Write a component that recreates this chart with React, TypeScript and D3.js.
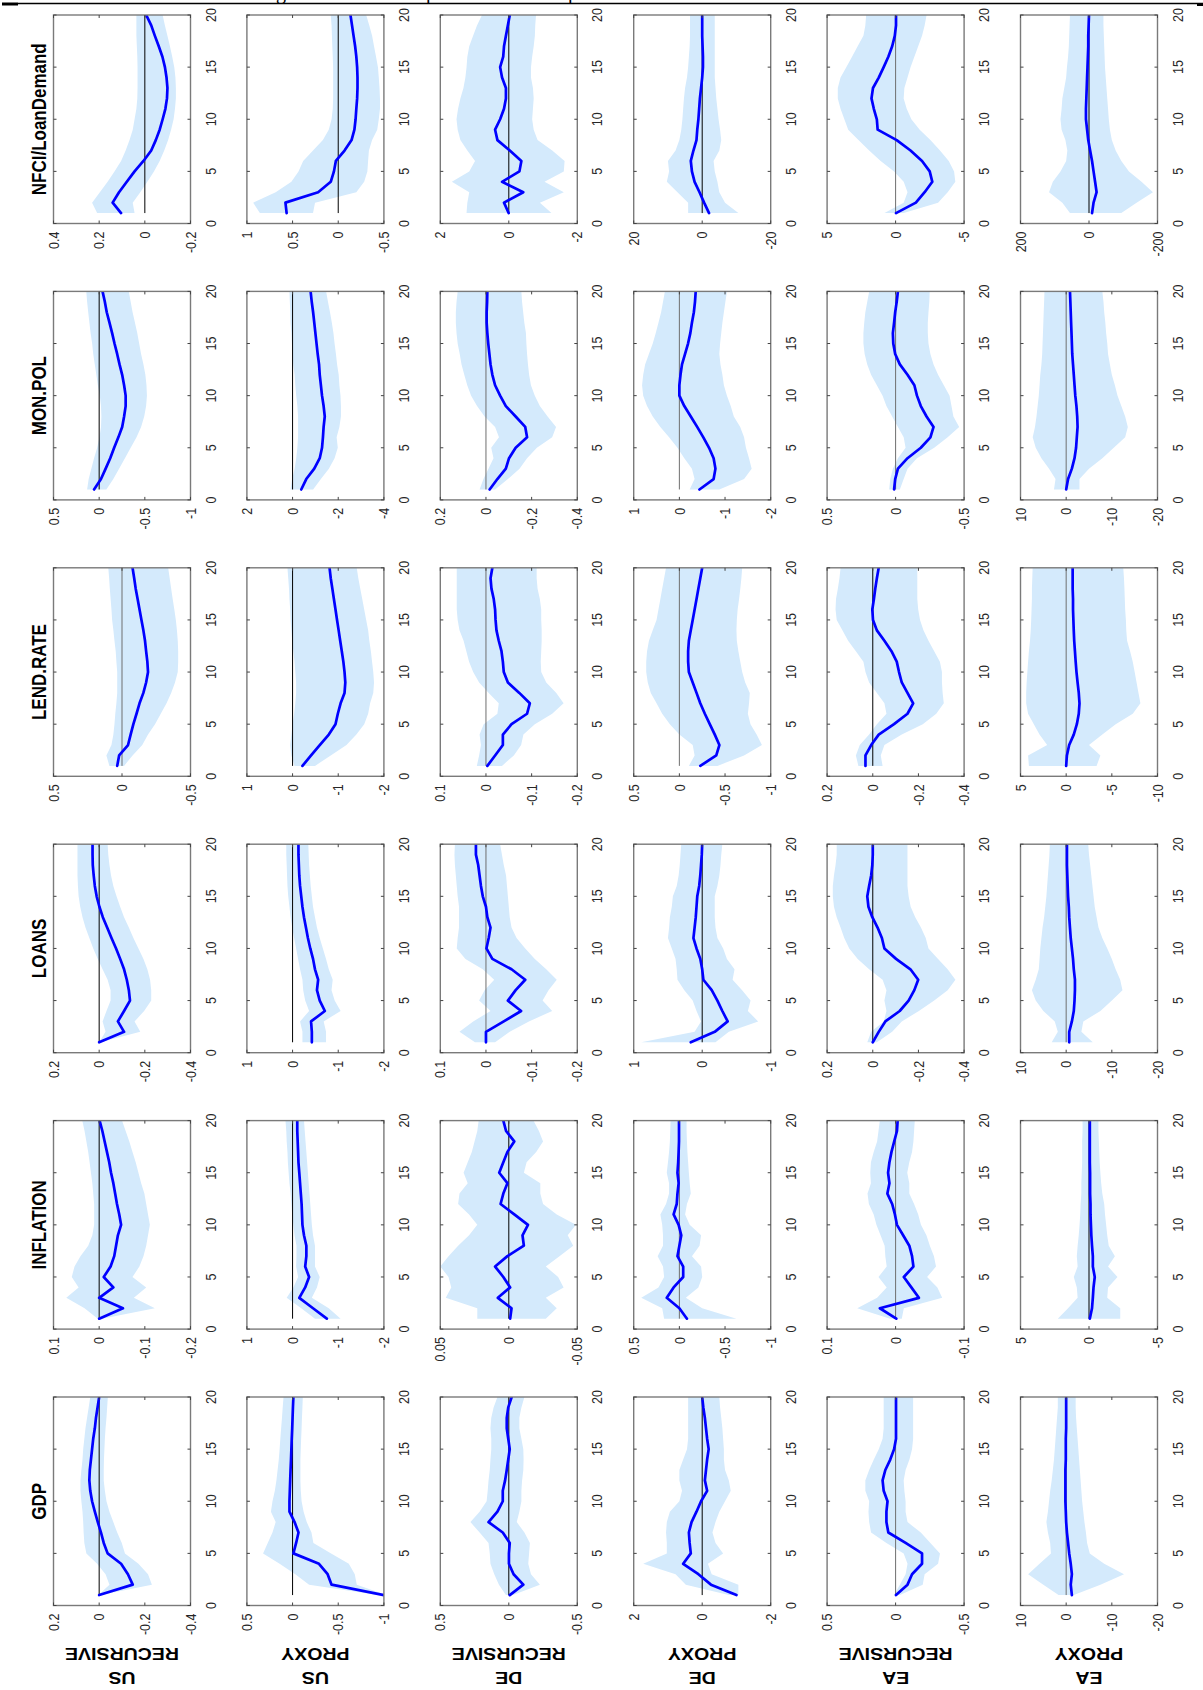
import React from 'react';
import * as d3 from 'd3';

// ---------- categories ----------
const variables = ['GDP', 'INFLATION', 'LOANS', 'LEND.RATE', 'MON.POL', 'NFCI/LoanDemand'];
const rowNames = [['US', 'RECURSIVE'], ['US', 'PROXY'], ['DE', 'RECURSIVE'], ['DE', 'PROXY'], ['EA', 'RECURSIVE'], ['EA', 'PROXY']];
const horizons = [1, 2, 3, 4, 5, 6, 7, 8, 9, 10, 11, 12, 13, 14, 15, 16, 17, 18, 19, 20];
const timeTicks = [0, 5, 10, 15, 20];

// ---------- tick labels (value axis) per row ----------
const gdpTicks = [[0.2, 0, -0.2, -0.4], [0.5, 0, -0.5, -1], [0.5, 0, -0.5], [2, 0, -2], [0.5, 0, -0.5], [10, 0, -10, -20]];
const infTicks = [[0.1, 0, -0.1, -0.2], [1, 0, -1, -2], [0.05, 0, -0.05], [0.5, 0, -0.5, -1], [0.1, 0, -0.1], [5, 0, -5]];
const loanTicks = [[0.2, 0, -0.2, -0.4], [1, 0, -1, -2], [0.1, 0, -0.1, -0.2], [1, 0, -1], [0.2, 0, -0.2, -0.4], [10, 0, -10, -20]];
const lendTicks = [[0.5, 0, -0.5], [1, 0, -1, -2], [0.1, 0, -0.1, -0.2], [0.5, 0, -0.5, -1], [0.2, 0, -0.2, -0.4], [5, 0, -5, -10]];
const monTicks = [[0.5, 0, -0.5, -1], [2, 0, -2, -4], [0.2, 0, -0.2, -0.4], [1, 0, -1, -2], [0.5, 0, -0.5], [10, 0, -10, -20]];
const nfciTicks = [[0.4, 0.2, 0, -0.2], [1, 0.5, 0, -0.5], [2, 0, -2], [20, 0, -20], [5, 0, -5], [200, 0, -200]];

// zero line drawn gray (1) or black (0)
const gdpZeroGray = [0, 0, 0, 0, 1, 1];
const infZeroGray = [0, 0, 0, 1, 1, 0];
const loanZeroGray = [0, 0, 1, 0, 0, 1];
const lendZeroGray = [1, 0, 1, 1, 0, 1];
const monZeroGray = [0, 0, 1, 1, 1, 1];
const nfciZeroGray = [0, 0, 0, 0, 1, 0];

// ---------- GDP ----------
const gdpMean = [
  [0, -0.147, -0.126, -0.096, -0.037, -0.02, -0.008, 0.006, 0.019, 0.031, 0.039, 0.043, 0.041, 0.036, 0.031, 0.026, 0.019, 0.014, 0.007, 0],
  [-1.0, -0.427, -0.384, -0.289, -0.009, -0.039, -0.065, -0.022, 0.034, 0.034, 0.03, 0.026, 0.022, 0.017, 0.013, 0.009, 0.004, 0, -0.004, -0.009],
  [-0.007, -0.106, -0.035, -0.001, -0.001, -0.007, 0.044, 0.148, 0.083, 0.044, 0.044, 0.027, 0.015, 0.004, -0.007, 0.004, 0.015, 0.015, 0.004, -0.021],
  [-1.0, -0.256, 0.111, 0.556, 0.333, 0.367, 0.389, 0.311, 0.167, 0.033, -0.144, -0.078, -0.111, -0.144, -0.189, -0.144, -0.111, -0.078, -0.033, 0],
  [-0.003, -0.087, -0.12, -0.193, -0.193, -0.073, 0.053, 0.067, 0.067, 0.059, 0.087, 0.095, 0.075, 0.039, 0.011, -0.003, -0.003, -0.003, -0.003, -0.003],
  [-1.25, -1.0, -1.25, -1.0, -0.67, -0.42, -0.17, 0, 0.08, 0.17, 0.17, 0.17, 0.17, 0.08, 0.08, 0.08, 0, 0, 0, 0],
];
const gdpHi = [
  [0.003, -0.045, -0.028, 0.009, 0.056, 0.065, 0.068, 0.07, 0.073, 0.078, 0.082, 0.082, 0.078, 0.073, 0.07, 0.065, 0.06, 0.053, 0.046, 0.039],
  [-0.935, -0.181, -0.03, 0.142, 0.323, 0.272, 0.22, 0.185, 0.237, 0.22, 0.194, 0.177, 0.164, 0.151, 0.142, 0.134, 0.125, 0.116, 0.108, 0.099],
  [0.021, 0.072, 0.106, 0.134, 0.139, 0.148, 0.213, 0.28, 0.213, 0.162, 0.154, 0.148, 0.139, 0.134, 0.128, 0.128, 0.134, 0.128, 0.111, 0.083],
  [-0.778, 0.478, 0.778, 1.722, 1.033, 1.033, 1.056, 1.033, 0.944, 0.667, 0.589, 0.667, 0.667, 0.556, 0.444, 0.411, 0.411, 0.411, 0.411, 0.411],
  [0.011, -0.031, -0.073, -0.087, -0.059, 0.067, 0.179, 0.193, 0.198, 0.193, 0.221, 0.221, 0.193, 0.159, 0.123, 0.095, 0.087, 0.087, 0.087, 0.087],
  [1.67, 5.0, 8.33, 5.83, 3.33, 3.5, 4.0, 4.33, 4.0, 3.75, 3.5, 3.17, 2.92, 2.67, 2.5, 2.33, 2.17, 2.0, 1.83, 1.83],
];
const gdpLo = [
  [-0.005, -0.231, -0.214, -0.172, -0.113, -0.099, -0.079, -0.062, -0.045, -0.032, -0.025, -0.02, -0.02, -0.021, -0.023, -0.025, -0.028, -0.032, -0.035, -0.038],
  [-1.03, -0.703, -0.681, -0.616, -0.422, -0.228, -0.207, -0.155, -0.121, -0.099, -0.09, -0.086, -0.086, -0.086, -0.09, -0.094, -0.099, -0.103, -0.108, -0.112],
  [-0.03, -0.227, -0.162, -0.142, -0.148, -0.154, -0.114, -0.058, -0.077, -0.092, -0.092, -0.097, -0.106, -0.108, -0.106, -0.092, -0.077, -0.077, -0.092, -0.114],
  [-1.056, -1.056, -0.278, -0.167, -0.611, -0.389, -0.3, -0.389, -0.5, -0.667, -0.833, -0.778, -0.667, -0.633, -0.633, -0.611, -0.589, -0.556, -0.522, -0.5],
  [-0.031, -0.198, -0.212, -0.31, -0.324, -0.254, -0.184, -0.087, -0.073, -0.073, -0.064, -0.059, -0.073, -0.101, -0.12, -0.128, -0.128, -0.128, -0.128, -0.128],
  [-1.67, -7.5, -12.67, -8.33, -5.17, -4.58, -4.33, -4.0, -3.75, -3.5, -3.33, -3.17, -3.0, -2.83, -2.67, -2.5, -2.33, -2.17, -2.08, -2.08],
];

// ---------- INFLATION ----------
const infMean = [
  [0, -0.052, 0, -0.031, -0.01, -0.025, -0.033, -0.037, -0.041, -0.048, -0.044, -0.039, -0.035, -0.031, -0.026, -0.022, -0.017, -0.012, -0.007, -0.001],
  [-0.75, -0.448, -0.147, -0.276, -0.362, -0.276, -0.302, -0.302, -0.25, -0.216, -0.207, -0.198, -0.181, -0.164, -0.147, -0.129, -0.121, -0.112, -0.103, -0.103],
  [-0.001, -0.002, 0.008, -0.001, 0.004, 0.01, 0.001, -0.011, -0.01, -0.014, -0.004, 0.006, 0.004, 0.001, 0.007, 0.004, 0.001, -0.004, 0.002, 0.004],
  [-0.083, 0, 0.138, 0.063, -0.042, -0.042, 0.021, 0, -0.021, 0.008, 0.063, 0.029, 0.021, 0.008, 0.021, 0.013, 0.008, 0.004, 0.004, 0.004],
  [-0.001, 0.023, -0.034, -0.023, -0.012, -0.026, -0.024, -0.02, -0.011, -0.002, 0.001, 0.005, 0.012, 0.009, 0.011, 0.009, 0.006, 0.002, -0.002, -0.003],
  [-0.06, -0.22, -0.28, -0.33, -0.42, -0.28, -0.28, -0.22, -0.17, -0.14, -0.11, -0.11, -0.08, -0.08, -0.08, -0.06, -0.06, -0.06, -0.06, -0.06],
];
const infHi = [
  [0.003, 0.032, 0.072, 0.045, 0.06, 0.054, 0.041, 0.024, 0.015, 0.011, 0.011, 0.011, 0.013, 0.015, 0.018, 0.021, 0.024, 0.028, 0.032, 0.037],
  [-0.491, -0.19, 0.129, -0.017, -0.121, -0.078, -0.086, -0.086, -0.043, -0.017, 0.009, 0.026, 0.043, 0.069, 0.086, 0.103, 0.112, 0.129, 0.138, 0.155],
  [0.023, 0.023, 0.046, 0.042, 0.044, 0.05, 0.044, 0.037, 0.029, 0.023, 0.029, 0.037, 0.036, 0.03, 0.033, 0.03, 0.027, 0.025, 0.023, 0.022],
  [0.167, 0.188, 0.417, 0.229, 0.167, 0.179, 0.238, 0.179, 0.179, 0.188, 0.208, 0.146, 0.113, 0.113, 0.138, 0.125, 0.113, 0.104, 0.1, 0.096],
  [0.008, 0.056, 0.027, 0.013, 0.025, 0.013, 0.015, 0.016, 0.022, 0.028, 0.032, 0.039, 0.041, 0.036, 0.037, 0.036, 0.032, 0.027, 0.025, 0.023],
  [2.28, 1.53, 0.83, 0.89, 1.11, 0.83, 0.89, 0.83, 0.75, 0.69, 0.64, 0.61, 0.56, 0.56, 0.53, 0.5, 0.5, 0.5, 0.47, 0.47],
];
const infLo = [
  [-0.006, -0.122, -0.076, -0.103, -0.073, -0.088, -0.097, -0.103, -0.107, -0.111, -0.107, -0.103, -0.099, -0.092, -0.086, -0.08, -0.073, -0.066, -0.058, -0.05],
  [-1.052, -0.793, -0.422, -0.534, -0.595, -0.491, -0.491, -0.491, -0.448, -0.422, -0.405, -0.388, -0.371, -0.353, -0.336, -0.319, -0.302, -0.284, -0.267, -0.25],
  [-0.027, -0.035, -0.027, -0.04, -0.036, -0.027, -0.037, -0.047, -0.043, -0.049, -0.035, -0.025, -0.023, -0.023, -0.011, -0.013, -0.02, -0.025, -0.022, -0.018],
  [-0.625, -0.25, -0.071, -0.208, -0.25, -0.238, -0.138, -0.221, -0.238, -0.113, -0.063, -0.083, -0.125, -0.113, -0.104, -0.096, -0.088, -0.083, -0.079, -0.079],
  [-0.009, -0.012, -0.068, -0.061, -0.046, -0.059, -0.056, -0.05, -0.045, -0.037, -0.033, -0.027, -0.02, -0.02, -0.017, -0.02, -0.024, -0.026, -0.027, -0.028],
  [-2.28, -2.28, -1.33, -1.39, -2.08, -1.39, -1.89, -1.44, -1.33, -1.25, -1.17, -1.11, -0.97, -0.89, -0.83, -0.78, -0.75, -0.72, -0.69, -0.69],
];

// ---------- LOANS ----------
const loanMean = [
  [0, -0.109, -0.082, -0.109, -0.135, -0.13, -0.121, -0.109, -0.092, -0.074, -0.054, -0.035, -0.016, -0.001, 0.011, 0.019, 0.024, 0.028, 0.029, 0.029],
  [-0.422, -0.422, -0.405, -0.707, -0.595, -0.534, -0.56, -0.491, -0.448, -0.388, -0.336, -0.293, -0.25, -0.216, -0.19, -0.164, -0.147, -0.138, -0.129, -0.129],
  [0, 0, -0.039, -0.077, -0.048, -0.065, -0.086, -0.056, -0.014, -0.001, -0.006, -0.01, -0.003, 0, 0.007, 0.011, 0.014, 0.017, 0.022, 0.022],
  [0.167, -0.183, -0.372, -0.294, -0.222, -0.139, -0.017, 0, 0.028, 0.083, 0.128, 0.111, 0.094, 0.083, 0.072, 0.044, 0.028, 0.017, 0.006, 0],
  [0, -0.026, -0.055, -0.118, -0.157, -0.182, -0.199, -0.165, -0.102, -0.051, -0.04, -0.021, 0.002, 0.019, 0.024, 0.016, 0.007, 0.002, 0, 0],
  [-0.67, -0.67, -1.25, -1.67, -1.83, -1.92, -1.92, -1.67, -1.5, -1.25, -1.0, -0.83, -0.67, -0.58, -0.42, -0.33, -0.25, -0.17, -0.17, -0.17],
];
const loanHi = [
  [0, -0.028, -0.015, -0.032, -0.05, -0.05, -0.037, -0.015, 0.006, 0.026, 0.043, 0.06, 0.073, 0.083, 0.09, 0.093, 0.095, 0.095, 0.095, 0.095],
  [-0.216, -0.216, -0.164, -0.362, -0.276, -0.233, -0.216, -0.164, -0.121, -0.078, -0.034, 0.009, 0.043, 0.069, 0.095, 0.112, 0.121, 0.129, 0.138, 0.138],
  [0.024, 0.058, 0.028, -0.01, 0.015, 0.003, -0.018, 0.007, 0.045, 0.064, 0.062, 0.059, 0.059, 0.059, 0.062, 0.064, 0.066, 0.068, 0.069, 0.068],
  [0.889, 0.111, 0.017, 0.083, 0.139, 0.261, 0.361, 0.372, 0.389, 0.444, 0.5, 0.483, 0.472, 0.444, 0.428, 0.372, 0.344, 0.328, 0.317, 0.306],
  [0.024, 0.007, -0.048, -0.06, -0.051, -0.06, -0.043, 0.016, 0.066, 0.103, 0.125, 0.141, 0.158, 0.17, 0.175, 0.175, 0.17, 0.163, 0.158, 0.158],
  [3.17, 1.83, 2.5, 5.0, 6.67, 7.5, 6.67, 6.0, 5.83, 5.67, 5.42, 5.17, 4.83, 4.58, 4.33, 4.17, 4.0, 3.83, 3.67, 3.58],
];
const loanLo = [
  [-0.004, -0.18, -0.155, -0.197, -0.228, -0.228, -0.223, -0.211, -0.194, -0.172, -0.15, -0.13, -0.109, -0.092, -0.076, -0.062, -0.052, -0.045, -0.04, -0.037],
  [-0.733, -0.733, -0.681, -1.052, -0.922, -0.853, -0.879, -0.793, -0.733, -0.664, -0.595, -0.534, -0.491, -0.448, -0.422, -0.397, -0.379, -0.362, -0.353, -0.345],
  [-0.02, -0.052, -0.094, -0.145, -0.124, -0.137, -0.155, -0.132, -0.107, -0.086, -0.067, -0.056, -0.052, -0.05, -0.048, -0.046, -0.044, -0.039, -0.035, -0.031],
  [-0.194, -0.389, -0.817, -0.667, -0.706, -0.583, -0.444, -0.472, -0.361, -0.306, -0.222, -0.194, -0.183, -0.183, -0.183, -0.222, -0.25, -0.267, -0.278, -0.294],
  [-0.018, -0.085, -0.127, -0.202, -0.269, -0.328, -0.362, -0.328, -0.286, -0.244, -0.232, -0.211, -0.186, -0.166, -0.157, -0.152, -0.152, -0.152, -0.152, -0.152],
  [-5.83, -3.33, -3.75, -7.5, -10.0, -12.33, -11.83, -10.83, -10.0, -9.0, -7.92, -7.08, -6.67, -6.25, -6.0, -5.75, -5.5, -5.25, -5.0, -4.83],
];

// ---------- LEND.RATE ----------
const lendMean = [
  [0.035, 0.021, -0.044, -0.063, -0.083, -0.106, -0.128, -0.156, -0.176, -0.19, -0.185, -0.176, -0.168, -0.156, -0.142, -0.128, -0.114, -0.1, -0.089, -0.077],
  [-0.216, -0.405, -0.595, -0.793, -0.94, -0.991, -1.052, -1.138, -1.155, -1.138, -1.112, -1.078, -1.043, -1.009, -0.974, -0.94, -0.905, -0.871, -0.836, -0.81],
  [-0.003, -0.02, -0.037, -0.037, -0.056, -0.09, -0.096, -0.073, -0.048, -0.039, -0.037, -0.034, -0.028, -0.023, -0.021, -0.02, -0.017, -0.012, -0.01, -0.014],
  [-0.229, -0.404, -0.438, -0.388, -0.333, -0.279, -0.229, -0.188, -0.146, -0.104, -0.096, -0.096, -0.104, -0.125, -0.146, -0.167, -0.188, -0.208, -0.229, -0.25],
  [0.032, 0.032, 0.007, -0.026, -0.093, -0.152, -0.177, -0.152, -0.127, -0.115, -0.105, -0.082, -0.051, -0.018, -0.001, 0.002, -0.005, -0.011, -0.018, -0.026],
  [0, -0.08, -0.33, -0.83, -1.17, -1.38, -1.46, -1.38, -1.25, -1.13, -1.04, -0.96, -0.88, -0.83, -0.79, -0.75, -0.75, -0.71, -0.71, -0.71],
];
const lendHi = [
  [0.092, 0.114, 0.077, 0.063, 0.055, 0.049, 0.041, 0.035, 0.035, 0.035, 0.041, 0.046, 0.055, 0.063, 0.072, 0.077, 0.083, 0.089, 0.094, 0.1],
  [-0.043, 0.026, 0.052, 0.026, 0, -0.034, -0.06, -0.078, -0.078, -0.06, -0.043, -0.017, 0.009, 0.026, 0.043, 0.052, 0.069, 0.078, 0.095, 0.112],
  [0.02, 0.015, 0.011, 0.014, 0.005, -0.025, -0.028, -0.006, 0.015, 0.028, 0.037, 0.043, 0.049, 0.058, 0.062, 0.064, 0.064, 0.064, 0.064, 0.064],
  [-0.104, -0.167, -0.146, 0, 0.104, 0.188, 0.25, 0.313, 0.346, 0.363, 0.363, 0.354, 0.333, 0.292, 0.25, 0.229, 0.208, 0.188, 0.167, 0.146],
  [0.063, 0.074, 0.057, 0.016, -0.018, -0.06, -0.051, -0.018, 0.016, 0.032, 0.041, 0.074, 0.108, 0.133, 0.158, 0.163, 0.161, 0.153, 0.146, 0.141],
  [4.08, 4.17, 2.08, 2.92, 3.54, 4.17, 4.38, 4.38, 4.33, 4.25, 4.17, 4.08, 3.96, 3.88, 3.83, 3.79, 3.75, 3.75, 3.71, 3.67],
];
const lendLo = [
  [-0.015, -0.077, -0.148, -0.19, -0.241, -0.283, -0.325, -0.359, -0.387, -0.407, -0.41, -0.41, -0.407, -0.401, -0.393, -0.382, -0.37, -0.359, -0.348, -0.337],
  [-0.491, -0.836, -1.181, -1.397, -1.569, -1.655, -1.698, -1.767, -1.784, -1.767, -1.741, -1.715, -1.681, -1.655, -1.612, -1.569, -1.526, -1.483, -1.44, -1.405],
  [-0.035, -0.061, -0.077, -0.082, -0.107, -0.145, -0.17, -0.154, -0.132, -0.121, -0.12, -0.121, -0.122, -0.122, -0.121, -0.121, -0.118, -0.113, -0.111, -0.111],
  [-0.417, -0.708, -0.904, -0.846, -0.779, -0.75, -0.763, -0.771, -0.721, -0.688, -0.667, -0.646, -0.629, -0.625, -0.629, -0.638, -0.654, -0.667, -0.679, -0.688],
  [-0.043, -0.035, -0.051, -0.127, -0.219, -0.278, -0.311, -0.306, -0.303, -0.303, -0.294, -0.269, -0.244, -0.222, -0.207, -0.199, -0.195, -0.195, -0.195, -0.195],
  [-3.33, -3.75, -2.5, -3.96, -5.42, -7.29, -8.13, -7.92, -7.71, -7.5, -7.29, -7.0, -6.67, -6.58, -6.54, -6.46, -6.42, -6.38, -6.33, -6.25],
];

// ---------- MON.POL ----------
const monMean = [
  [0.056, -0.02, -0.071, -0.121, -0.164, -0.21, -0.252, -0.273, -0.29, -0.29, -0.273, -0.252, -0.223, -0.197, -0.168, -0.142, -0.113, -0.083, -0.062, -0.037],
  [-0.38, -0.6, -0.95, -1.19, -1.29, -1.33, -1.36, -1.41, -1.36, -1.29, -1.24, -1.19, -1.16, -1.1, -1.05, -1.0, -0.95, -0.9, -0.84, -0.79],
  [-0.016, -0.05, -0.087, -0.101, -0.13, -0.18, -0.172, -0.13, -0.087, -0.062, -0.04, -0.028, -0.02, -0.015, -0.01, -0.006, -0.003, -0.003, -0.005, -0.006],
  [-0.44, -0.75, -0.79, -0.75, -0.65, -0.525, -0.39, -0.25, -0.108, 0, 0, -0.025, -0.058, -0.125, -0.19, -0.24, -0.275, -0.317, -0.342, -0.358],
  [0.011, 0.003, -0.017, -0.087, -0.184, -0.254, -0.277, -0.226, -0.184, -0.156, -0.137, -0.087, -0.031, 0.003, 0.017, 0.02, 0.011, 0.003, -0.008, -0.017],
  [0, -0.42, -1.25, -1.83, -2.17, -2.33, -2.5, -2.42, -2.25, -2.0, -1.83, -1.67, -1.5, -1.33, -1.25, -1.17, -1.08, -1.0, -0.92, -0.83],
];
const monHi = [
  [0.132, 0.115, 0.086, 0.056, 0.022, -0.003, -0.02, -0.024, -0.02, -0.007, 0.014, 0.031, 0.048, 0.065, 0.077, 0.094, 0.107, 0.12, 0.132, 0.141],
  [0.09, 0.02, -0.09, -0.16, -0.21, -0.24, -0.24, -0.24, -0.21, -0.16, -0.12, -0.09, -0.03, 0, 0.03, 0.05, 0.09, 0.1, 0.12, 0.14],
  [0.028, 0.011, -0.011, -0.033, -0.023, -0.057, -0.04, 0.006, 0.039, 0.065, 0.082, 0.095, 0.107, 0.115, 0.124, 0.129, 0.132, 0.132, 0.129, 0.124],
  [-0.225, -0.333, -0.275, -0.108, 0.042, 0.225, 0.417, 0.583, 0.708, 0.792, 0.817, 0.792, 0.75, 0.667, 0.583, 0.517, 0.458, 0.4, 0.358, 0.317],
  [0.047, 0.039, 0.02, -0.017, -0.073, -0.059, -0.017, 0.025, 0.067, 0.095, 0.137, 0.179, 0.207, 0.226, 0.235, 0.235, 0.229, 0.221, 0.207, 0.193],
  [2.67, 2.33, 3.75, 5.42, 6.67, 7.33, 6.83, 6.5, 6.25, 6.0, 5.83, 5.67, 5.42, 5.25, 5.17, 5.08, 5.0, 4.92, 4.83, 4.75],
];
const monLo = [
  [-0.079, -0.155, -0.218, -0.282, -0.345, -0.409, -0.459, -0.493, -0.514, -0.523, -0.518, -0.506, -0.485, -0.459, -0.438, -0.417, -0.392, -0.366, -0.345, -0.324],
  [-0.9, -1.24, -1.59, -1.84, -1.98, -1.93, -2.05, -2.12, -2.12, -2.1, -2.05, -2.02, -1.95, -1.9, -1.84, -1.79, -1.72, -1.64, -1.55, -1.47],
  [-0.04, -0.096, -0.147, -0.18, -0.223, -0.29, -0.307, -0.27, -0.236, -0.214, -0.197, -0.189, -0.184, -0.18, -0.177, -0.175, -0.168, -0.163, -0.158, -0.155],
  [-0.875, -1.417, -1.583, -1.525, -1.458, -1.417, -1.333, -1.192, -1.125, -1.042, -0.975, -0.942, -0.9, -0.875, -0.892, -0.917, -0.942, -0.975, -1.008, -1.042],
  [-0.031, -0.059, -0.087, -0.156, -0.282, -0.38, -0.464, -0.422, -0.408, -0.394, -0.352, -0.31, -0.277, -0.254, -0.24, -0.235, -0.235, -0.24, -0.246, -0.249],
  [-2.92, -2.92, -5.0, -7.92, -10.42, -12.92, -13.5, -12.92, -12.08, -11.25, -10.67, -10.0, -9.58, -9.17, -9.0, -8.75, -8.58, -8.33, -8.17, -7.92],
];

// ---------- NFCI / LoanDemand ----------
const nfciMean = [
  [0.104, 0.141, 0.113, 0.079, 0.045, 0.006, -0.028, -0.048, -0.065, -0.078, -0.09, -0.097, -0.099, -0.095, -0.088, -0.077, -0.061, -0.044, -0.028, -0.006],
  [0.565, 0.578, 0.22, 0.082, 0.047, 0.026, -0.069, -0.146, -0.177, -0.19, -0.198, -0.207, -0.211, -0.211, -0.207, -0.198, -0.185, -0.168, -0.151, -0.134],
  [0.005, 0.14, -0.423, 0.197, -0.31, -0.367, -0.029, 0.332, 0.4, 0.253, 0.14, 0.084, 0.084, 0.197, 0.253, 0.163, 0.14, 0.084, 0.028, -0.029],
  [-2.0, -0.56, 0.78, 2.22, 3.0, 3.33, 2.56, 1.67, 1.44, 1.11, 0.89, 0.67, 0.33, 0, -0.22, -0.22, -0.11, 0, 0, 0],
  [-0.03, -1.48, -2.12, -2.68, -2.49, -1.93, -1.09, -0.08, 1.31, 1.37, 1.59, 1.76, 1.65, 1.23, 0.87, 0.53, 0.25, 0.06, -0.03, -0.03],
  [-8.9, -13.3, -22.2, -17.8, -13.3, -8.9, -3.3, 2.2, 5.6, 8.9, 8.9, 7.8, 6.7, 5.6, 4.4, 3.3, 2.2, 2.2, 1.1, 0],
];
const nfciHi = [
  [0.209, 0.231, 0.197, 0.163, 0.133, 0.104, 0.084, 0.067, 0.053, 0.045, 0.037, 0.033, 0.032, 0.032, 0.032, 0.033, 0.035, 0.037, 0.037, 0.037],
  [0.858, 0.931, 0.685, 0.513, 0.435, 0.384, 0.276, 0.168, 0.104, 0.073, 0.06, 0.056, 0.056, 0.056, 0.056, 0.06, 0.065, 0.069, 0.073, 0.082],
  [1.234, 1.211, 1.155, 1.662, 1.155, 0.986, 1.211, 1.414, 1.493, 1.527, 1.482, 1.414, 1.324, 1.268, 1.234, 1.211, 1.155, 1.042, 0.929, 0.783],
  [4.11, 4.11, 7.22, 10.33, 9.67, 10.0, 7.78, 6.67, 6.11, 5.78, 5.56, 5.33, 5.0, 4.44, 4.11, 3.89, 3.67, 3.56, 3.56, 3.56],
  [0.81, -0.59, -0.87, -0.59, 0.11, 1.09, 1.93, 2.71, 3.46, 3.74, 4.02, 4.22, 4.22, 4.02, 3.6, 3.18, 2.77, 2.35, 2.21, 2.15],
  [55.6, 77.8, 116.7, 105.6, 83.3, 66.7, 63.3, 68.9, 80, 83.3, 80, 77.8, 72.2, 66.7, 64.4, 61.1, 58.9, 57.8, 56.7, 55.6],
];
const nfciLo = [
  [0.045, 0.053, 0.02, -0.011, -0.04, -0.065, -0.085, -0.102, -0.115, -0.126, -0.132, -0.136, -0.136, -0.134, -0.129, -0.12, -0.11, -0.099, -0.088, -0.078],
  [0.276, 0.254, -0.198, -0.284, -0.319, -0.327, -0.336, -0.371, -0.427, -0.444, -0.457, -0.457, -0.452, -0.444, -0.435, -0.414, -0.392, -0.371, -0.34, -0.306],
  [-1.246, -0.908, -1.606, -1.043, -1.606, -1.629, -1.268, -0.84, -0.727, -0.682, -0.705, -0.727, -0.705, -0.648, -0.648, -0.682, -0.727, -0.761, -0.772, -0.795],
  [-10.56, -6.67, -5.0, -4.44, -3.67, -3.33, -5.0, -5.56, -5.22, -4.78, -4.44, -4.11, -3.89, -3.67, -3.67, -3.67, -3.67, -3.67, -3.67, -3.67],
  [-0.59, -3.1, -3.8, -4.36, -4.27, -3.88, -3.24, -2.54, -1.76, -1.15, -0.81, -0.59, -0.64, -0.87, -1.09, -1.37, -1.65, -1.93, -2.12, -2.26],
  [-94.4, -138.9, -186.7, -153.3, -116.7, -94.4, -77.8, -66.7, -61.1, -57.8, -55.6, -53.3, -51.1, -48.9, -46.7, -45.6, -44.4, -43.3, -42.2, -42.2],
];

const meanByVar = [gdpMean, infMean, loanMean, lendMean, monMean, nfciMean];
const hiByVar = [gdpHi, infHi, loanHi, lendHi, monHi, nfciHi];
const loByVar = [gdpLo, infLo, loanLo, lendLo, monLo, nfciLo];
const ticksByVar = [gdpTicks, infTicks, loanTicks, lendTicks, monTicks, nfciTicks];
const zeroGrayByVar = [gdpZeroGray, infZeroGray, loanZeroGray, lendZeroGray, monZeroGray, nfciZeroGray];

// ---------- layout (landscape frame, later rotated -90deg) ----------
const PAGE_W = 1203;
const PAGE_H = 1690;
const FIG_W = 1690;
const PANEL_X0 = 84.5;
const PANEL_DX = 276.4;
const PANEL_W = 208.5;
const PANEL_Y0 = 53.5;
const PANEL_DY = 193.4;
const PANEL_H = 137;
const SY = 1.15; // vertical stretch of text (figure was stretched when placed)
const FONT = '"Liberation Sans", Arial, Helvetica, sans-serif';
const BAND = '#d4eafc';
const AXIS = '#7a7a7a';
const BLUE = '#0000ff';

function Panel({ c, r }: { c: number; r: number }) {
  const ticks = ticksByVar[c][r];
  const mean = meanByVar[c][r];
  const hi = hiByVar[c][r];
  const lo = loByVar[c][r];
  const x0 = PANEL_X0 + PANEL_DX * c;
  const y0 = PANEL_Y0 + PANEL_DY * r;
  const xs = d3.scaleLinear().domain([0, 20]).range([x0, x0 + PANEL_W]);
  const ys = d3.scaleLinear().domain([d3.min(ticks) as number, d3.max(ticks) as number]).range([y0 + PANEL_H, y0]);
  const area = d3
    .area<number>()
    .x((_, i) => xs(horizons[i]))
    .y0((_, i) => ys(lo[i]))
    .y1((_, i) => ys(hi[i]));
  const line = d3
    .line<number>()
    .x((_, i) => xs(horizons[i]))
    .y((d) => ys(d));
  const id = `clip-${c}-${r}`;
  const tl = 3;
  const zeroColor = zeroGrayByVar[c][r] ? '#6f6f6f' : '#000000';
  return (
    <g>
      <clipPath id={id}>
        <rect x={x0} y={y0} width={PANEL_W} height={PANEL_H} />
      </clipPath>
      <g clipPath={`url(#${id})`}>
        <path d={area(mean) || ''} fill={BAND} stroke="none" />
        <line x1={xs(1)} x2={xs(20)} y1={ys(0)} y2={ys(0)} stroke={zeroColor} strokeWidth={1} />
        <path d={line(mean) || ''} fill="none" stroke={BLUE} strokeWidth={2.7} strokeLinejoin="round" strokeLinecap="round" />
      </g>
      <rect x={x0} y={y0} width={PANEL_W} height={PANEL_H} fill="none" stroke={AXIS} strokeWidth={1.4} />
      {timeTicks.map((t) => (
        <g key={`tt${t}`}>
          <line x1={xs(t)} x2={xs(t)} y1={y0 + PANEL_H} y2={y0 + PANEL_H - tl} stroke="#444" strokeWidth={1} />
          <line x1={xs(t)} x2={xs(t)} y1={y0} y2={y0 + tl} stroke="#444" strokeWidth={1} />
          <text
            transform={`translate(${xs(t)},${y0 + PANEL_H + 25}) scale(1,${SY})`}
            textAnchor="middle"
            fontFamily={FONT}
            fontSize={12.5}
            fill="#262626"
          >
            {t}
          </text>
        </g>
      ))}
      {ticks.map((v) => (
        <g key={`vt${v}`}>
          <line x1={x0} x2={x0 + tl} y1={ys(v)} y2={ys(v)} stroke="#444" strokeWidth={1} />
          <line x1={x0 + PANEL_W} x2={x0 + PANEL_W - tl} y1={ys(v)} y2={ys(v)} stroke="#444" strokeWidth={1} />
          <text
            transform={`translate(${x0 - 8},${ys(v)}) scale(1,${SY})`}
            textAnchor="end"
            dy="0.36em"
            fontFamily={FONT}
            fontSize={12.5}
            fill="#262626"
          >
            {String(v)}
          </text>
        </g>
      ))}
    </g>
  );
}

export default function App() {
  return (
    <svg
      width={PAGE_W}
      height={PAGE_H}
      viewBox={`0 0 ${PAGE_W} ${PAGE_H}`}
      style={{ position: 'absolute', left: 0, top: 0, display: 'block', background: '#fff' }}
    >
      <rect x={0} y={0} width={PAGE_W} height={PAGE_H} fill="#fff" />
      {/* cut-off caption line at top of the page */}
      <g fontFamily='"Liberation Serif", "Times New Roman", serif' fontSize={20} fill="#000">
        <text x={276} y={-1.5}>g</text>
        <text x={426} y={-1.5}>p</text>
        <text x={568} y={-1.5}>p</text>
      </g>
      <line x1={18} x2={PAGE_W} y1={3.5} y2={3.5} stroke="#000" strokeWidth={1.3} />
      <rect x={2} y={2.5} width={16} height={3} fill="#000" />
      <rect x={1197} y={3} width={6} height={3} fill="#000" />

      <g transform={`translate(0,${FIG_W}) rotate(-90)`}>
        {variables.map((v, c) => (
          <g key={v}>
            {rowNames.map((_, r) => (
              <Panel key={`${c}-${r}`} c={c} r={r} />
            ))}
            <text
              transform={`translate(${PANEL_X0 + PANEL_DX * c + PANEL_W / 2},${PANEL_Y0 - 8}) scale(1,${SY})`}
              textAnchor="middle"
              fontFamily={FONT}
              fontWeight="bold"
              fontSize={17}
              fill="#000"
            >
              {v}
            </text>
          </g>
        ))}
        {rowNames.map((rn, r) => {
          const yc = PANEL_Y0 + PANEL_DY * r + PANEL_H / 2;
          return (
            <g key={`rl${r}`}>
              <text
                transform={`translate(18,${yc}) scale(1,${SY}) rotate(-90)`}
                textAnchor="middle"
                fontFamily={FONT}
                fontWeight="bold"
                fontSize={17}
                fill="#000"
              >
                {rn[0]}
              </text>
              <text
                transform={`translate(42,${yc}) scale(1,${SY}) rotate(-90)`}
                textAnchor="middle"
                fontFamily={FONT}
                fontWeight="bold"
                fontSize={17}
                fill="#000"
              >
                {rn[1]}
              </text>
            </g>
          );
        })}
      </g>
    </svg>
  );
}
